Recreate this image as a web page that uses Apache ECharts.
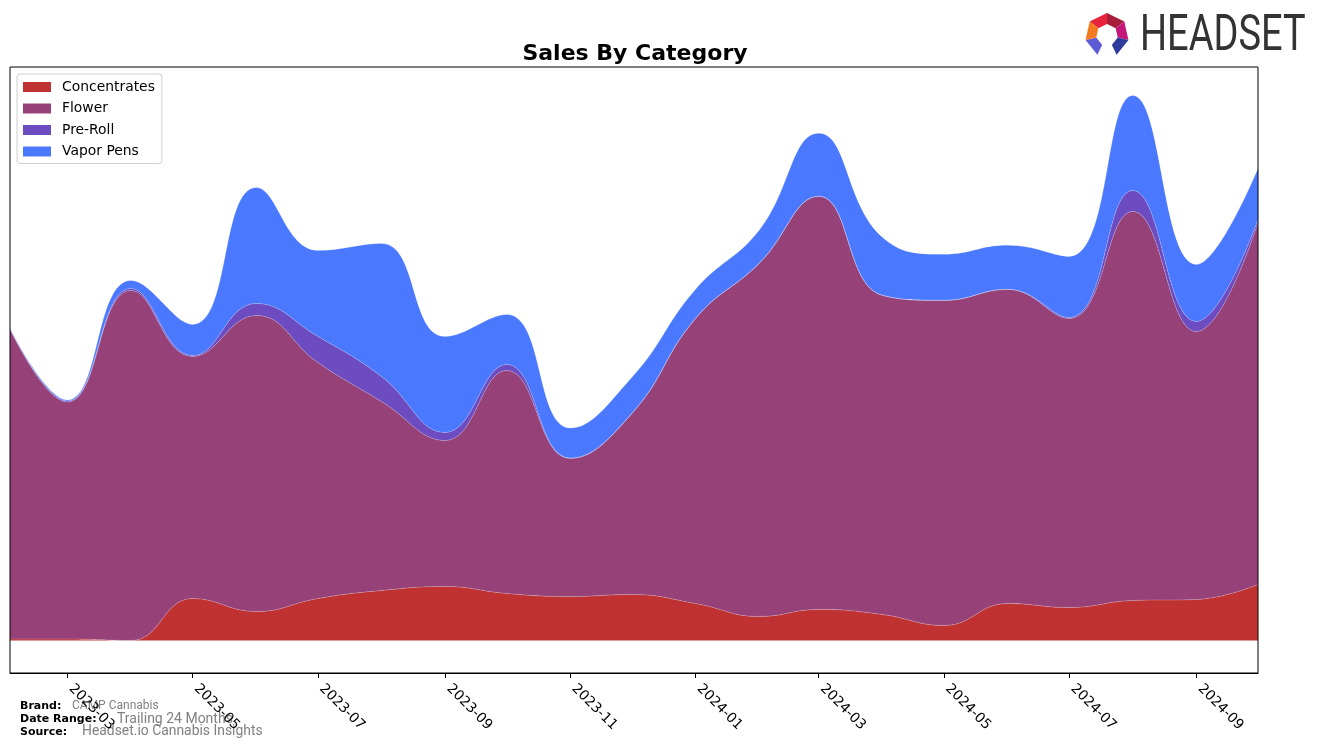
<!DOCTYPE html>
<html>
<head>
<meta charset="utf-8">
<script src="https://cdn.jsdelivr.net/npm/echarts@6/dist/echarts.min.js"></script>
<style>
html,body{margin:0;padding:0;background:#fff;}
#chart{width:1322px;height:748px;}
</style>
</head>
<body>
<div id="chart"></div>
<script>
// ---- data ----
const months = ['2023-02','2023-03','2023-04','2023-05','2023-06','2023-07','2023-08','2023-09','2023-10','2023-11','2023-12',
                '2024-01','2024-02','2024-03','2024-04','2024-05','2024-06','2024-07','2024-08','2024-09','2024-10'];
const concentrates = [1.5, 1.5, 0, 42, 29, 42, 50, 54, 47, 44, 46, 37, 24, 31, 26, 15, 37, 33, 40, 41, 56];
const flower       = [310, 237, 350, 242, 296, 236, 189, 146, 223, 138, 181, 285, 353, 413, 319, 325, 314, 289, 389, 268, 362];
const preRoll      = [0.5, 1, 2, 1, 12, 26, 25, 8, 6, 0.5, 0.3, 0.3, 0.3, 0.3, 0.3, 0.3, 0.3, 1, 21, 10, 3];
const vaporPens    = [0.5, 1, 8, 31, 116, 86, 133, 96, 50, 30, 36, 29, 33, 63, 58, 46, 44, 61, 95, 57, 51];
const seriesNames  = ['Concentrates','Flower','Pre-Roll','Vapor Pens'];
const tickLabels   = ['2023-03','2023-05','2023-07','2023-09','2023-11','2024-01','2024-03','2024-05','2024-07','2024-09'];

const colors = ['#c03232','#964278','#6c4cc0','#4a78ff'];
const values = [concentrates, flower, preRoll, vaporPens];

// x position = days since first month (real calendar spacing)
const DAY = 86400000;
function toDate(s){ const p = s.split('-'); return Date.UTC(+p[0], +p[1]-1, 1); }
const t0 = toDate(months[0]);
const toDay = s => Math.round((toDate(s) - t0) / DAY);
const days = months.map(toDay);
const tickDays = tickLabels.map(toDay);
const labelOf = {};
tickLabels.forEach((l, i) => { labelOf[tickDays[i]] = l; });

const chart = echarts.init(document.getElementById('chart'), null, {renderer:'canvas'});

// logo geometry helper (decoration only)
function ringSeg(cx, cy, r1, r2, a0, a1){
  const rad = a => (a - 90) * Math.PI / 180;
  return [
    [cx + r2*Math.cos(rad(a0)), cy + r2*Math.sin(rad(a0))],
    [cx + r2*Math.cos(rad(a1)), cy + r2*Math.sin(rad(a1))],
    [cx + r1*Math.cos(rad(a1)), cy + r1*Math.sin(rad(a1))],
    [cx + r1*Math.cos(rad(a0)), cy + r1*Math.sin(rad(a0))]
  ];
}
const lcx = 1107, lcy = 35;
const logoSegs = [
  {a0:-52, a1:0, c:'#e8243c'},
  {a0:0, a1:52, c:'#a81d3a'},
  {a0:52, a1:103, c:'#c4177c'},
  {a0:103, a1:154, c:'#2f3b9c'},
  {a0:206, a1:257, c:'#5d5bd8'},
  {a0:257, a1:308, c:'#f47a22'}
];
const logoGraphics = logoSegs.map(s => ({
  type:'polygon', shape:{points: ringSeg(lcx, lcy, 11, 22, s.a0, s.a1)}, style:{fill:s.c}
}));

const font = 'DejaVu Sans';
const option = {
  animation:false,
  backgroundColor:'#fff',
  title:{
    text:'Sales By Category', left:630, top:38, textAlign:'center',
    textStyle:{fontFamily:font, fontWeight:'bold', fontSize:22, color:'#000'}
  },
  legend:{
    orient:'vertical', left:17, top:74,
    data: seriesNames,
    itemWidth:28, itemHeight:10, itemGap:7.5,
    icon:'rect',
    padding:[6,7,5,6],
    borderColor:'#d0d0d0', borderWidth:1, borderRadius:3,
    backgroundColor:'rgba(255,255,255,0.8)',
    textStyle:{fontFamily:font, fontSize:13.9, color:'#000', padding:[0,0,0,6]}
  },
  grid:{left:10, right:64, top:67, bottom:75, containLabel:false},
  xAxis:{
    type:'value', min: days[0], max: days[days.length-1],
    axisLine:{show:true, onZero:false, lineStyle:{color:'#000', width:1}},
    axisTick:{show:true, length:5, lineStyle:{color:'#000'}, customValues: tickDays},
    axisLabel:{show:true, rotate:-45, margin:10, padding:[0,0,0,5], color:'#000', fontFamily:font, fontSize:13.9,
               customValues: tickDays, formatter: v => labelOf[v] || '', showMinLabel:true, showMaxLabel:true},
    splitLine:{show:false}
  },
  yAxis:{
    type:'value', min:-32.5, max:573.5, show:false
  },
  series: seriesNames.map((n, i) => ({
    name:n, type:'line', stack:'total', smooth:0.45, symbol:'none',
    // value first so the stack is applied on the y dimension
    data: values[i].map((v, j) => [v, days[j]]),
    encode:{x:1, y:0},
    itemStyle:{color:colors[i]},
    lineStyle:{width:0.8, color:'rgba(255,255,255,0.25)'},
    areaStyle:{color:colors[i], opacity:1}
  })),
  graphic:[
    {type:'rect', shape:{x:10, y:67, width:1248, height:606}, style:{fill:'none', stroke:'#000', lineWidth:1}, z:100, silent:true},
    ...logoGraphics,
    {type:'text', x:1140, y:37, scaleX:0.76,
     style:{text:'HEADSET', fontFamily:'Roboto', fontSize:50, fill:'#333', verticalAlign:'middle', textAlign:'left'}},
    {type:'text', x:20, y:706, style:{text:'Brand:', fontFamily:font, fontWeight:'bold', fontSize:11, fill:'#000', verticalAlign:'middle'}},
    {type:'text', x:72, y:706, style:{text:'CAMP Cannabis', fontFamily:'Roboto', fontSize:12, fill:'#808080', verticalAlign:'middle'}},
    {type:'text', x:20, y:719, style:{text:'Date Range:', fontFamily:font, fontWeight:'bold', fontSize:11, fill:'#000', verticalAlign:'middle'}},
    {type:'text', x:117, y:719, style:{text:'Trailing 24 Months', fontFamily:'Roboto', fontSize:14, fill:'#808080', verticalAlign:'middle'}},
    {type:'text', x:20, y:732, style:{text:'Source:', fontFamily:font, fontWeight:'bold', fontSize:11, fill:'#000', verticalAlign:'middle'}},
    {type:'text', x:82, y:732, style:{text:'Headset.io Cannabis Insights', fontFamily:'Roboto', fontSize:13.9, fill:'#808080', verticalAlign:'middle'}}
  ]
};
chart.setOption(option);
</script>
</body>
</html>
